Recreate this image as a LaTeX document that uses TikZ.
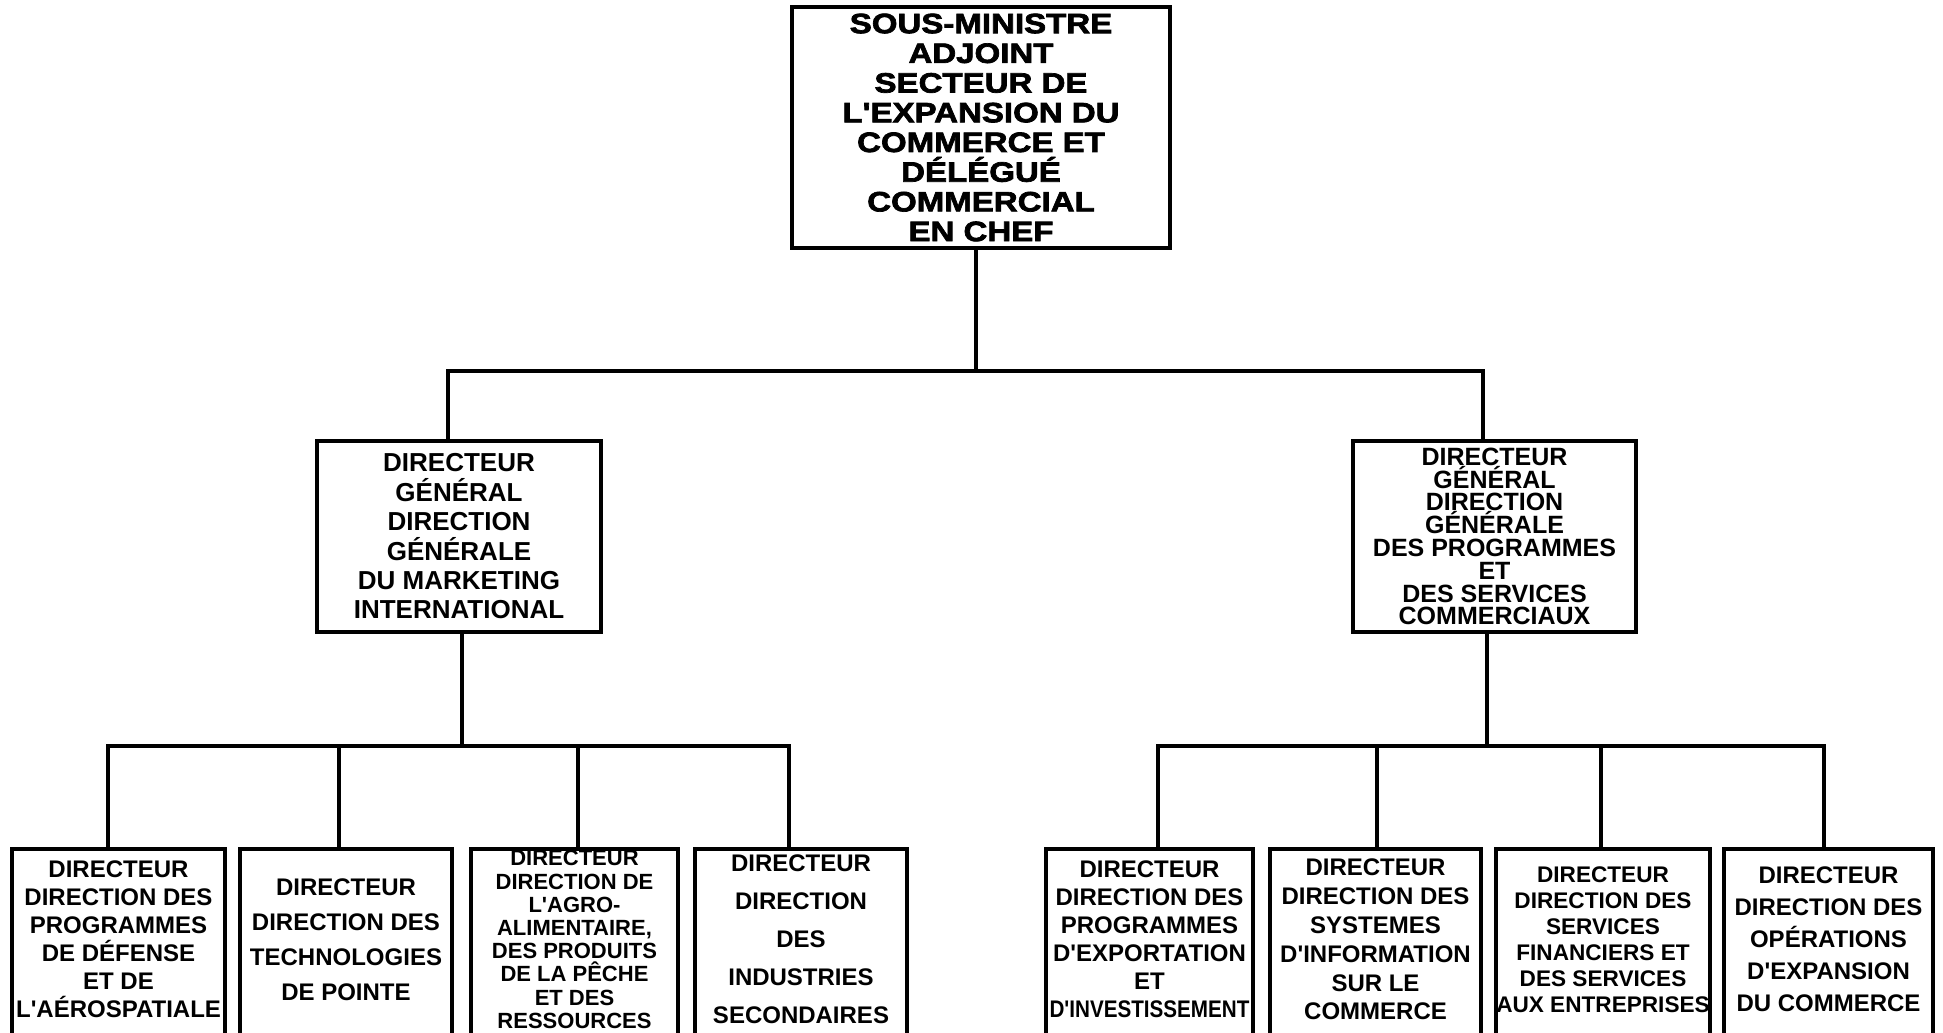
\documentclass[tikz,border=0pt]{standalone}
\usepackage{fontspec}
\setmainfont{Liberation Sans}[Ligatures=TeXOff]
\newfontfamily\heavyfont{Liberation Sans}[BoldFeatures={FakeBold=2.5,FakeStretch=1.18}]
\usetikzlibrary{positioning}

\begin{document}
\begin{tikzpicture}
[x=0.5pt,y=-0.5pt,
   org/.style={draw,line width=2pt,inner sep=0pt,align=center},
   fs/.style 2 args={font={\fontsize{#1}{#2}\selectfont\bfseries}},
   unit/.style={org,minimum height=95.5pt},
   leaf/.style={unit,execute at end node={\rule[-5pt]{0pt}{0pt}}},
   link/.style={line width=2pt}]
\useasboundingbox (0,0) rectangle (1943,1033);
\clip (0,0) rectangle (1943,1033);

\node[org,minimum width=189pt,minimum height=120.5pt,
      font={\heavyfont\fontsize{14}{14.85}\selectfont\bfseries}] (sma) at (981,127.5)
  {SOUS-MINISTRE\\ADJOINT\\SECTEUR DE\\L'EXPANSION DU\\COMMERCE ET\\DÉLÉGUÉ\\COMMERCIAL\\EN CHEF};

\node[unit,minimum width=142pt,fs={13}{14.7}] (dgmi) at (459,536.5)
  {DIRECTEUR\\GÉNÉRAL\\DIRECTION\\GÉNÉRALE\\DU MARKETING\\INTERNATIONAL};
\node[unit,minimum width=141.5pt,fs={12.5}{11.4}] (dgps) at (1494.5,536.5)
  {DIRECTEUR\\GÉNÉRAL\\DIRECTION\\GÉNÉRALE\\DES PROGRAMMES\\ET\\DES SERVICES\\COMMERCIAUX};

\node[leaf,minimum width=106.5pt,fs={12}{14}] (def) at (118.5,944.5)
  {DIRECTEUR\\DIRECTION DES\\PROGRAMMES\\DE DÉFENSE\\ET DE\\L'AÉROSPATIALE};
\node[leaf,minimum width=106pt,fs={12}{17.4}] (tech) at (346,944.5)
  {DIRECTEUR\\DIRECTION DES\\TECHNOLOGIES\\DE POINTE};
\node[leaf,minimum width=103.5pt,fs={11}{11.6}] (agro) at (574.5,944.5)
  {DIRECTEUR\\DIRECTION DE\\L'AGRO-\\ALIMENTAIRE,\\DES PRODUITS\\DE LA PÊCHE\\ET DES\\RESSOURCES};
\node[leaf,minimum width=106pt,fs={12}{19}] (ind) at (801,944.5)
  {DIRECTEUR\\DIRECTION\\DES\\INDUSTRIES\\SECONDAIRES};

\node[leaf,minimum width=103.5pt,fs={12}{14}] (exp) at (1149.5,944.5)
  {DIRECTEUR\\DIRECTION DES\\PROGRAMMES\\D'EXPORTATION\\ET\\\scalebox{0.86}[1]{D'INVESTISSEMENT}};
\node[leaf,minimum width=105.5pt,fs={12}{14.4}] (info) at (1375.5,944.5)
  {DIRECTEUR\\DIRECTION DES\\SYSTEMES\\D'INFORMATION\\SUR LE\\COMMERCE};
\node[leaf,minimum width=106pt,fs={11.3}{13}] (fin) at (1603,944.5)
  {DIRECTEUR\\DIRECTION DES\\SERVICES\\FINANCIERS ET\\DES SERVICES\\AUX ENTREPRISES};
\node[leaf,minimum width=104.5pt,fs={12}{16}] (ops) at (1828.5,944.5)
  {DIRECTEUR\\DIRECTION DES\\OPÉRATIONS\\D'EXPANSION\\DU COMMERCE};

\coordinate (j0) at (976,371);
\coordinate (jl) at (448,371);
\coordinate (jr) at (1483,371);
\draw[link] (sma.south -| j0) -- (j0);
\draw[link] (jl |- dgmi.north) -- (jl) -- (jr) -- (jr |- dgps.north);

\coordinate (k0) at (462,746);
\foreach \n/\x in {1/108,2/339,3/578,4/789}
  \coordinate (k\n) at (\x,746);
\draw[link] (dgmi.south -| k0) -- (k0);
\draw[link] (k1 |- def.north) -- (k1) -- (k4) -- (k4 |- ind.north);
\draw[link] (k2) -- (k2 |- tech.north);
\draw[link] (k3) -- (k3 |- agro.north);

\coordinate (m0) at (1487,746);
\foreach \n/\x in {1/1158,2/1377,3/1601,4/1824}
  \coordinate (m\n) at (\x,746);
\draw[link] (dgps.south -| m0) -- (m0);
\draw[link] (m1 |- exp.north) -- (m1) -- (m4) -- (m4 |- ops.north);
\draw[link] (m2) -- (m2 |- info.north);
\draw[link] (m3) -- (m3 |- fin.north);
\end{tikzpicture}
\end{document}
